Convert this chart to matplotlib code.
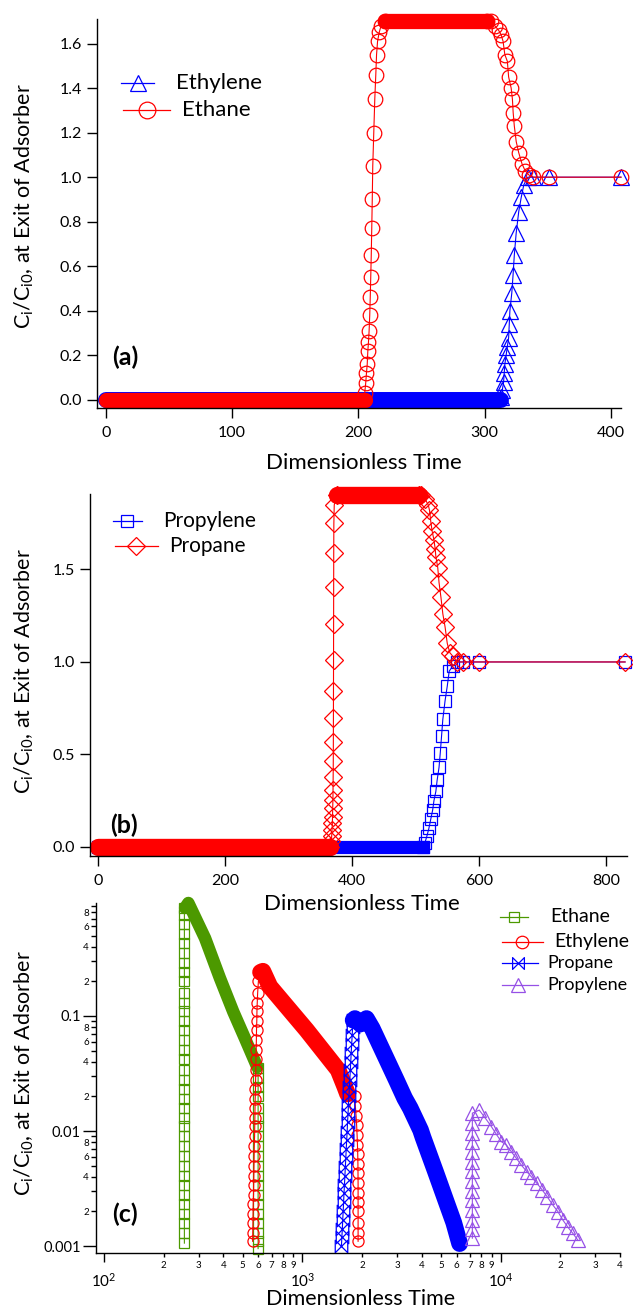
import numpy as np
import matplotlib
matplotlib.use('Agg')
import matplotlib.pyplot as plt
from matplotlib.path import Path
from matplotlib.lines import Line2D
from matplotlib.ticker import FixedLocator, FixedFormatter

plt.rcParams['font.family'] = ['Lato', 'DejaVu Sans']
plt.rcParams['mathtext.fontset'] = 'custom'
plt.rcParams['mathtext.rm'] = 'Lato'
plt.rcParams['mathtext.it'] = 'Lato:italic'
plt.rcParams['mathtext.bf'] = 'Lato:bold'

RED = '#ff0000'
BLUE = '#0000ff'
GREEN = '#4c9900'
PURPLE = '#9650e6'

#---------------------------------------------------------------------------------------
# Panel (a) : ethylene / ethane
#---------------------------------------------------------------------------------------
a_xticks = [0, 100, 200, 300, 400]
a_yticks = [0.0, 0.2, 0.4, 0.6, 0.8, 1.0, 1.2, 1.4, 1.6]

# runs of markers so dense they merge into a solid band
a_ethylene_band_t = [0, 313]
a_ethylene_band_c = [0.0, 0.0]
a_ethylene_t = [313, 314, 315, 315.5, 316, 317, 318, 319, 319.5, 320, 321.5, 322.5,
                323.5, 325, 327, 329, 331, 334, 338, 351, 408]
a_ethylene_c = [0.015, 0.045, 0.08, 0.12, 0.16, 0.2, 0.24, 0.28, 0.34, 0.40, 0.48, 0.56,
                0.65, 0.75, 0.845, 0.91, 0.965, 1.0, 1.0, 1.0, 1.0]

a_ethane_band1_t = [0, 205]
a_ethane_band1_c = [0.0, 0.0]
a_ethane_rise_t = [205, 205.8, 206.4, 207, 207.5, 208, 208.5, 209, 209.4, 209.8, 210.2,
                   210.6, 211, 211.4, 212.2, 213, 213.8, 214.4, 215.2, 216.5, 218, 221]
a_ethane_rise_c = [0.03, 0.075, 0.12, 0.16, 0.22, 0.26, 0.31, 0.38, 0.46, 0.55, 0.65,
                   0.77, 0.90, 1.05, 1.20, 1.35, 1.46, 1.55, 1.61, 1.65, 1.68, 1.70]
a_ethane_band2_t = [221, 302]
a_ethane_band2_c = [1.70, 1.70]
a_ethane_fall_t = [302, 305, 308, 311, 313, 314.6, 316, 318, 319, 321, 322, 322.6, 323.5,
                   325, 327, 329.6, 332, 335, 338.6, 351, 408]
a_ethane_fall_c = [1.70, 1.70, 1.68, 1.66, 1.64, 1.61, 1.55, 1.52, 1.45, 1.40, 1.35, 1.29,
                   1.23, 1.16, 1.11, 1.06, 1.03, 1.01, 1.0, 1.0, 1.0]

#---------------------------------------------------------------------------------------
# Panel (b) : propylene / propane
#---------------------------------------------------------------------------------------
b_xticks = [0, 200, 400, 600, 800]
b_yticks = [0.0, 0.5, 1.0, 1.5]

b_propylene_band_t = [0, 511]
b_propylene_band_c = [0.0, 0.0]
b_propylene_t = [511, 514.6, 518, 521, 524, 527, 529, 532, 534, 537, 539, 541, 543,
                 546.5, 550, 553, 559, 565.6, 575, 600, 830]
b_propylene_c = [0.0, 0.02, 0.06, 0.10, 0.15, 0.20, 0.25, 0.30, 0.36, 0.43, 0.51, 0.60,
                 0.69, 0.79, 0.87, 0.95, 0.98, 1.0, 1.0, 1.0, 1.0]

b_propane_band1_t = [0, 366]
b_propane_band1_c = [0.0, 0.0]
b_propane_rise_t = [366, 367.5, 368, 368.5, 369, 369.3, 369.6, 369.9, 370.1, 370.3, 370.5,
                    370.6, 370.7, 370.8, 370.9, 371, 371.1, 371.2, 371.4, 372, 376]
b_propane_rise_c = [0.0, 0.03, 0.06, 0.092, 0.128, 0.164, 0.209, 0.254, 0.308, 0.38, 0.465,
                    0.569, 0.695, 0.843, 1.011, 1.205, 1.404, 1.588, 1.75, 1.849, 1.90]
b_propane_band2_t = [376, 505]
b_propane_band2_c = [1.90, 1.90]
b_propane_fall_t = [505, 508, 515, 520, 522, 524, 526, 529, 531, 532, 535, 537, 540, 543,
                    546.5, 550, 554, 559, 565.6, 575, 600, 830]
b_propane_fall_c = [1.90, 1.90, 1.88, 1.85, 1.82, 1.76, 1.71, 1.66, 1.61, 1.57, 1.51, 1.43,
                    1.35, 1.26, 1.19, 1.10, 1.05, 1.03, 1.0, 1.0, 1.0, 1.0]

#---------------------------------------------------------------------------------------
# Panel (c) : four component run, log-log
#---------------------------------------------------------------------------------------
c_xmajor = [100, 1000, 10000]
c_xmajor_labels = [r'$\mathdefault{10^{2}}$', r'$\mathdefault{10^{3}}$', r'$\mathdefault{10^{4}}$']
c_xminor = [200, 300, 400, 500, 600, 700, 800, 900,
            2000, 3000, 4000, 5000, 6000, 7000, 8000, 9000,
            20000, 30000, 40000]
c_xminor_labels = ['2', '3', '4', '5', '6', '7', '8', '9',
                   '2', '3', '4', '5', '6', '7', '8', '9',
                   '2', '3', '4']
c_ymajor = [0.001, 0.01, 0.1]
c_ymajor_labels = ['0.001', '0.01', '0.1']
c_yminor = [0.002, 0.003, 0.004, 0.005, 0.006, 0.007, 0.008, 0.009,
            0.02, 0.03, 0.04, 0.05, 0.06, 0.07, 0.08, 0.09,
            0.2, 0.3, 0.4, 0.5, 0.6, 0.7, 0.8, 0.9]
c_yminor_labels = ['2', '', '4', '', '6', '', '8', '',
                   '2', '', '4', '', '6', '', '8', '',
                   '2', '', '4', '', '6', '', '8', '']

c_ethane_rise_t0 = 254.0
c_ethane_rise_c = [0.00106, 0.0013, 0.0016, 0.0019, 0.0023, 0.0028, 0.0034, 0.0041, 0.005,
                   0.0061, 0.0074, 0.009, 0.011, 0.013, 0.016, 0.019, 0.023, 0.028, 0.034,
                   0.042, 0.051, 0.062, 0.075, 0.091, 0.11, 0.13, 0.16, 0.2, 0.24, 0.29,
                   0.35, 0.43, 0.52, 0.63, 0.76, 0.87]
c_ethane_band_t = [256, 266, 323, 384, 448, 513, 577, 592]
c_ethane_band_c = [0.87, 0.96, 0.474, 0.213, 0.109, 0.064, 0.040, 0.036]
c_ethane_drop_t0 = 598.0
c_ethane_drop_c = [0.035, 0.029, 0.024, 0.02, 0.016, 0.013, 0.011, 0.009, 0.0074, 0.0061,
                   0.005, 0.0041, 0.0034, 0.0028, 0.0023, 0.0019, 0.0016, 0.0013, 0.0011,
                   0.00095]

c_ethylene_rise_t = [561, 562, 563, 564, 565, 567, 568, 569, 570, 571, 572, 574, 575, 576,
                     577, 578, 580, 581, 582, 583, 585, 586, 587, 589, 590, 592, 595, 600, 610]
c_ethylene_rise_c = [0.0011, 0.0013, 0.0016, 0.0019, 0.0023, 0.0028, 0.0034, 0.0041, 0.005,
                     0.0061, 0.0074, 0.009, 0.011, 0.013, 0.016, 0.019, 0.023, 0.028, 0.034,
                     0.042, 0.051, 0.062, 0.075, 0.091, 0.11, 0.13, 0.16, 0.2, 0.24]
c_ethylene_band_t = [615, 632, 686, 1050, 1514, 1637, 1690]
c_ethylene_band_c = [0.24, 0.245, 0.18, 0.0755, 0.034, 0.0243, 0.021]
c_ethylene_drop_t = [1835, 1850, 1865, 1878, 1888, 1896, 1902, 1906, 1908, 1910, 1910,
                     1910, 1910, 1910, 1910, 1910]
c_ethylene_drop_c = [0.02, 0.0165, 0.0136, 0.0112, 0.0092, 0.0076, 0.0063, 0.0052, 0.0043,
                     0.0035, 0.0029, 0.0024, 0.002, 0.0016, 0.0013, 0.0011]

c_propane_rise_t = [1574, 1582, 1590, 1598, 1606, 1614, 1622, 1630, 1639, 1647, 1656, 1664,
                    1673, 1682, 1690, 1699, 1708, 1717, 1726, 1735, 1745, 1754, 1763, 1773,
                    1783, 1793, 1803]
c_propane_rise_c = [0.001, 0.0012, 0.0014, 0.0017, 0.002, 0.0024, 0.0029, 0.0034, 0.0041,
                    0.0049, 0.0058, 0.007, 0.0083, 0.0099, 0.012, 0.014, 0.017, 0.02, 0.024,
                    0.028, 0.034, 0.04, 0.048, 0.057, 0.068, 0.081, 0.092]
c_propane_band_t = [1803, 1840, 1960, 2105, 2250, 2600, 2980, 3280, 3500, 3945, 4060, 4700,
                    5330, 5800, 6210]
c_propane_band_c = [0.092, 0.095, 0.085, 0.095, 0.078, 0.0458, 0.0277, 0.0193, 0.0158,
                    0.0102, 0.0088, 0.0044, 0.0024, 0.0016, 0.00105]

c_propylene_rise_t0 = 7200.0
c_propylene_rise_c = [0.00117, 0.0014, 0.0017, 0.00205, 0.0025, 0.003, 0.0037, 0.0045,
                      0.0054, 0.0066, 0.008, 0.0097, 0.0118, 0.0143]
c_propylene_fall_t = [7800, 8380, 8990, 9500, 10070, 10690, 11330, 12000, 12710, 13570,
                      14280, 15240, 16220, 17180, 18350, 19450, 20610, 21830, 23120, 24490]
c_propylene_fall_c = [0.0152, 0.0129, 0.0109, 0.0094, 0.0081, 0.00755, 0.0066, 0.0058,
                      0.00506, 0.00443, 0.00401, 0.00351, 0.00307, 0.00268, 0.00227, 0.00199,
                      0.00168, 0.00146, 0.00129, 0.00113]

#---------------------------------------------------------------------------------------
# helpers
#---------------------------------------------------------------------------------------
W, H = 633.0, 1307.0

# bowtie marker used by Igor for propane
BOWTIE = Path([(-1, -1), (-1, 1), (1, -1), (1, 1), (-1, -1)],
              [Path.MOVETO, Path.LINETO, Path.LINETO, Path.LINETO, Path.CLOSEPOLY])


def px_axes(left, top, right, bottom):
	return fig.add_axes([left / W, 1 - bottom / H, (right - left) / W, (bottom - top) / H])


def draw_series(ax, pieces, color, marker, ms, band_lw, cap='round', mew=0.9):
	# pieces: ('band', t, c) -> markers merged into a solid run, ('pts', t, c) -> open markers
	t_all = np.concatenate([np.asarray(p[1], float) for p in pieces])
	c_all = np.concatenate([np.asarray(p[2], float) for p in pieces])
	ax.plot(t_all, c_all, '-', color=color, lw=0.8, clip_on=False, zorder=2)
	for kind, t, c in pieces:
		if kind == 'band':
			ax.plot(t, c, '-', color=color, lw=band_lw, solid_capstyle=cap,
			        solid_joinstyle='round', clip_on=False, zorder=2)
		else:
			ax.plot(t, c, ls='none', marker=marker, ms=ms, mfc='none', mec=color,
			        mew=mew, clip_on=False, zorder=2)


def style_axes(ax):
	for s in ('top', 'right'):
		ax.spines[s].set_visible(False)
	for s in ('left', 'bottom'):
		ax.spines[s].set_linewidth(1.0)
	ax.tick_params(which='both', direction='out', width=1.0, labelsize=11.5)
	ax.tick_params(which='major', length=7)
	ax.tick_params(axis='x', pad=6)
	ax.tick_params(axis='y', pad=4)
	ax.patch.set_alpha(0)


def legend_entry(x0, x1, xm, y, tx, label, color, marker, ms, fs, mew=0.9):
	fig.add_artist(Line2D([x0 / W, x1 / W], [1 - y / H, 1 - y / H], color=color, lw=0.9,
	                      transform=fig.transFigure))
	fig.add_artist(Line2D([xm / W], [1 - y / H], ls='none', marker=marker, ms=ms, mfc='none',
	                      mec=color, mew=mew, transform=fig.transFigure))
	fig.text(tx / W, 1 - y / H, label, fontsize=fs, va='center', ha='left')


ylab = r'C$_{\mathregular{i}}$/C$_{\mathregular{i0}}$, at Exit of Adsorber'

fig = plt.figure(figsize=(6.33, 13.07), dpi=100)

#---------------------------------------------------------------------------------------
# (a)
#---------------------------------------------------------------------------------------
ax_a = px_axes(97, 19, 621, 408)
draw_series(ax_a, [('band', a_ethylene_band_t, a_ethylene_band_c),
                   ('pts', a_ethylene_t, a_ethylene_c)], BLUE, '^', 11, 11.5)
draw_series(ax_a, [('band', a_ethane_band1_t, a_ethane_band1_c),
                   ('pts', a_ethane_rise_t, a_ethane_rise_c),
                   ('band', a_ethane_band2_t, a_ethane_band2_c),
                   ('pts', a_ethane_fall_t, a_ethane_fall_c)], RED, 'o', 10.5, 11)
ax_a.set_xlim(-7, 408)
ax_a.set_ylim(-0.036, 1.71)
ax_a.set_xticks(a_xticks)
ax_a.set_yticks(a_yticks)
ax_a.set_yticklabels(['%.1f' % v for v in a_yticks])
style_axes(ax_a)

legend_entry(121, 154, 138, 83, 176, 'Ethylene', BLUE, '^', 11, 16)
legend_entry(123, 170, 147, 110, 182, 'Ethane', RED, 'o', 12, 16)

fig.text(24 / W, 1 - 206 / H, ylab, rotation=90, ha='center', va='center', fontsize=15.5)
fig.text(364 / W, 1 - 463 / H, 'Dimensionless Time', ha='center', va='center', fontsize=16)
fig.text(125 / W, 1 - 357 / H, '(a)', ha='center', va='center', fontsize=18, fontweight='bold')

#---------------------------------------------------------------------------------------
# (b)
#---------------------------------------------------------------------------------------
ax_b = px_axes(90, 494, 627, 856)
draw_series(ax_b, [('band', b_propylene_band_t, b_propylene_band_c),
                   ('pts', b_propylene_t, b_propylene_c)], BLUE, 's', 9, 9.5, cap='projecting')
draw_series(ax_b, [('band', b_propane_band1_t, b_propane_band1_c),
                   ('pts', b_propane_rise_t, b_propane_rise_c),
                   ('band', b_propane_band2_t, b_propane_band2_c),
                   ('pts', b_propane_fall_t, b_propane_fall_c)], RED, 'D', 9.5, 12.5)
ax_b.set_xlim(-12.6, 833)
ax_b.set_ylim(-0.049, 1.908)
ax_b.set_xticks(b_xticks)
ax_b.set_yticks(b_yticks)
ax_b.set_yticklabels(['%.1f' % v for v in b_yticks])
style_axes(ax_b)

legend_entry(113, 142, 127, 521, 163, 'Propylene', BLUE, 's', 9, 15)
legend_entry(115, 158, 136, 546, 169, 'Propane', RED, 'D', 9.5, 15)

fig.text(24 / W, 1 - 671 / H, ylab, rotation=90, ha='center', va='center', fontsize=15.5)
fig.text(362 / W, 1 - 904 / H, 'Dimensionless Time', ha='center', va='center', fontsize=16)
fig.text(124 / W, 1 - 825 / H, '(b)', ha='center', va='center', fontsize=18, fontweight='bold')

#---------------------------------------------------------------------------------------
# (c)
#---------------------------------------------------------------------------------------
ax_c = px_axes(96, 903, 620, 1253)
ax_c.set_xscale('log')
ax_c.set_yscale('log')

draw_series(ax_c, [('pts', np.full(len(c_ethane_rise_c), c_ethane_rise_t0), c_ethane_rise_c),
                   ('band', c_ethane_band_t, c_ethane_band_c),
                   ('pts', np.full(len(c_ethane_drop_c), c_ethane_drop_t0), c_ethane_drop_c)],
            GREEN, 's', 6.5, 9)
draw_series(ax_c, [('pts', c_ethylene_rise_t, c_ethylene_rise_c),
                   ('band', c_ethylene_band_t, c_ethylene_band_c),
                   ('pts', c_ethylene_drop_t, c_ethylene_drop_c)], RED, 'o', 8, 12)
draw_series(ax_c, [('pts', c_propane_rise_t, c_propane_rise_c),
                   ('band', c_propane_band_t, c_propane_band_c)], BLUE, BOWTIE, 9, 12)
draw_series(ax_c, [('pts', np.full(len(c_propylene_rise_c), c_propylene_rise_t0), c_propylene_rise_c),
                   ('pts', c_propylene_fall_t, c_propylene_fall_c)], PURPLE, '^', 9.5, 9)

ax_c.set_xlim(91, 40000)
ax_c.set_ylim(0.00087, 0.96)
style_axes(ax_c)
ax_c.xaxis.set_major_locator(FixedLocator(c_xmajor))
ax_c.xaxis.set_major_formatter(FixedFormatter(c_xmajor_labels))
ax_c.xaxis.set_minor_locator(FixedLocator(c_xminor))
ax_c.xaxis.set_minor_formatter(FixedFormatter(c_xminor_labels))
ax_c.yaxis.set_major_locator(FixedLocator(c_ymajor))
ax_c.yaxis.set_major_formatter(FixedFormatter(c_ymajor_labels))
ax_c.yaxis.set_minor_locator(FixedLocator(c_yminor))
ax_c.yaxis.set_minor_formatter(FixedFormatter(c_yminor_labels))
ax_c.tick_params(axis='x', which='major', length=6.5, pad=7, labelsize=11)
ax_c.tick_params(axis='x', which='minor', length=3, pad=3, labelsize=7)
ax_c.tick_params(axis='y', which='major', length=9.5, pad=1.5, labelsize=10.5)
ax_c.tick_params(axis='y', which='minor', length=3.6, pad=1.5, labelsize=7)

legend_entry(500, 528, 514, 917, 550, 'Ethane', GREEN, 's', 6.5, 14)
legend_entry(502, 543, 522, 942, 554, 'Ethylene', RED, 'o', 9, 14)
legend_entry(502, 538, 518, 963, 547, 'Propane', BLUE, BOWTIE, 8.5, 13)
legend_entry(502, 538, 518, 985, 547, 'Propylene', PURPLE, '^', 9.5, 13)

fig.text(24 / W, 1 - 1073 / H, ylab, rotation=90, ha='center', va='center', fontsize=15.5)
fig.text(361 / W, 1 - 1299 / H, 'Dimensionless Time', ha='center', va='center', fontsize=15.5)
fig.text(125 / W, 1 - 1214 / H, '(c)', ha='center', va='center', fontsize=18, fontweight='bold')

fig.savefig('out.png', dpi=100)
